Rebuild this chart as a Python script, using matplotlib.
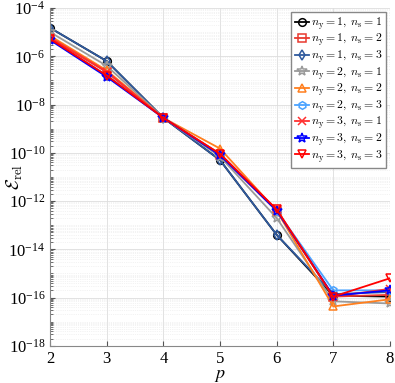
import numpy as np
import matplotlib
matplotlib.use("Agg")
from matplotlib import pyplot as plt
from matplotlib.ticker import LogLocator, NullFormatter
from matplotlib.font_manager import FontProperties

p = [2, 3, 4, 5, 6, 7, 8]

# relative error per (n_y, n_s) combination
e11 = [1.5e-5, 6.3e-7, 2.8e-9, 5.0e-11, 4.0e-14, 1.2e-16, 1.1e-16]
e12 = [5.7e-6, 2.2e-7, 2.8e-9, 8.0e-11, 4.0e-13, 1.1e-16, 1.3e-16]
e13 = [1.5e-5, 6.3e-7, 2.8e-9, 5.0e-11, 4.0e-14, 1.4e-16, 1.7e-16]
e21 = [1.0e-5, 4.0e-7, 2.8e-9, 7.0e-11, 2.0e-13, 7.0e-17, 5.7e-17]
e22 = [7.0e-6, 2.6e-7, 2.8e-9, 1.5e-10, 4.0e-13, 4.3e-17, 8.5e-17]
e23 = [5.0e-6, 1.6e-7, 2.8e-9, 9.0e-11, 4.0e-13, 2.0e-16, 2.0e-16]
e31 = [6.0e-6, 2.3e-7, 2.8e-9, 9.0e-11, 4.5e-13, 1.1e-16, 2.3e-16]
e32 = [4.7e-6, 1.4e-7, 2.8e-9, 8.0e-11, 4.0e-13, 1.2e-16, 2.0e-16]
e33 = [5.2e-6, 1.6e-7, 2.8e-9, 9.0e-11, 4.5e-13, 1.1e-16, 6.3e-16]

series = [e11, e12, e13, e21, e22, e23, e31, e32, e33]
labels = [r"$n_{\rm y}=%d,\; n_{\rm s}=%d$" % (a, b) for a in (1, 2, 3) for b in (1, 2, 3)]
colors = ["black", "#e8392f", "#2f5a9e", "#9a9a9a", "#ff7f1e",
          "#4aa3ff", "#ff3030", "#0000ff", "#ff0000"]
markers = ["o", "s", "d", "*", "^", "h", "x", "*", "v"]

plt.rcParams["font.family"] = ["Liberation Serif", "DejaVu Serif"]
plt.rcParams["mathtext.fontset"] = "stix"

fig = plt.figure(figsize=(3.95, 3.83), dpi=100)
ax = fig.add_axes([0.127, 0.097, 0.86, 0.882])

for y, lab, c, m in zip(series, labels, colors, markers):
    ms = 7 if m == "*" else 5.5
    ax.semilogy(p, y, color=c, marker=m, mfc="none", mec=c, ms=ms,
                mew=1.1, lw=1.3, label=lab)

ax.set_xlim(2, 8)
ax.set_ylim(1e-18, 1e-4)
ax.set_xticks(p)
ax.set_yticks([10.0 ** k for k in range(-18, -3, 2)])
ax.yaxis.set_minor_locator(LogLocator(base=10, subs=np.arange(1, 10), numticks=50))
ax.yaxis.set_minor_formatter(NullFormatter())
ax.tick_params(direction="in", labelsize=12, which="both", color="#555555")
ax.grid(True, which="major", color="#dddddd", lw=0.6)
ax.grid(True, which="minor", color="#e8e8e8", lw=0.5, ls=":")
for s in ["top", "right"]:
    ax.spines[s].set_visible(False)
for s in ["left", "bottom"]:
    ax.spines[s].set_color("#888888")

ax.set_xlabel(r"$p$", fontsize=13, labelpad=0)
ax.set_ylabel(r"$\mathcal{E}_{\rm rel}$", fontsize=13, math_fontfamily="cm")
ax.yaxis.set_label_coords(-0.075, 0.5)

ax.legend(loc="upper right", prop=FontProperties(size=8.5, math_fontfamily="cm"),
          handlelength=1.2, handletextpad=0.2,
          labelspacing=0.0, borderpad=0.3, borderaxespad=0.3,
          fancybox=False, framealpha=1, edgecolor="#888888")

fig.savefig("out.png", dpi=100)
